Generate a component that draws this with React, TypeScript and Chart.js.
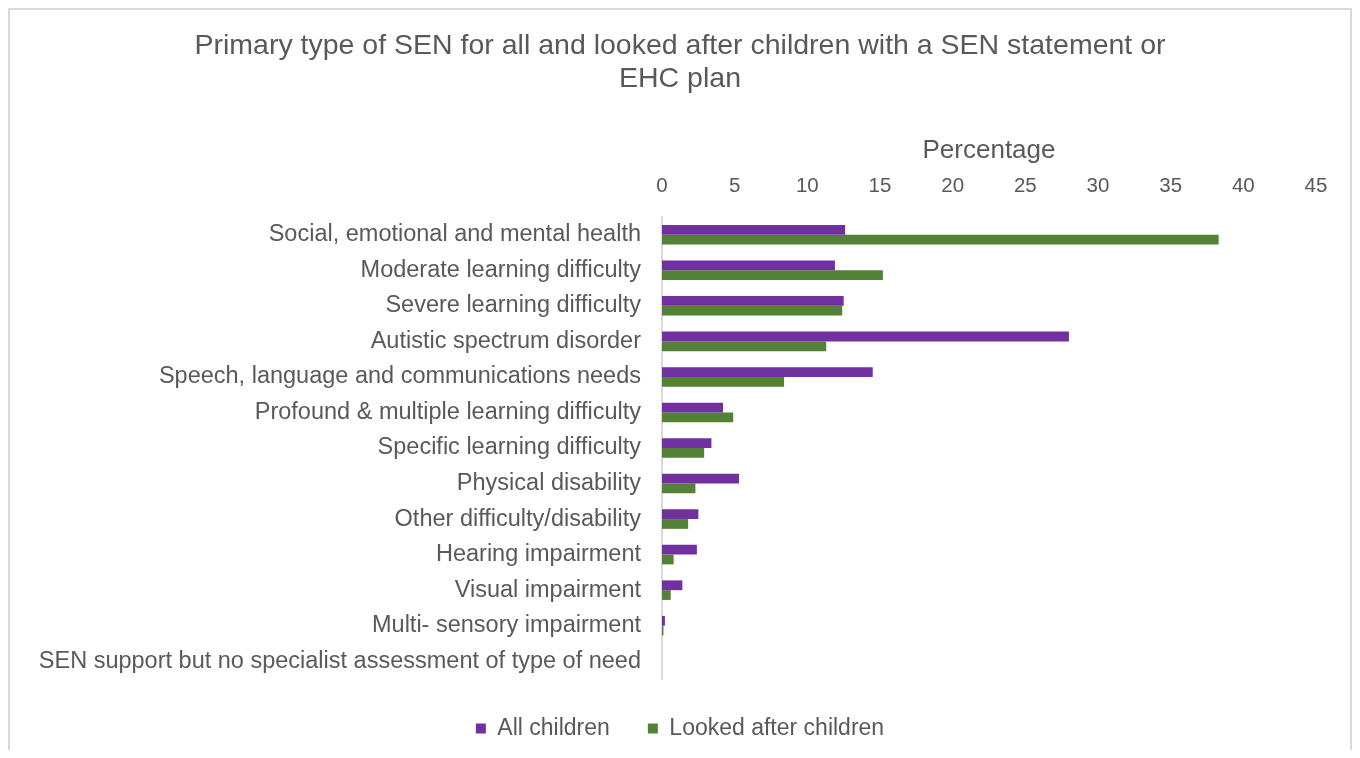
import React, { useEffect, useRef } from "react";
import { Chart, registerables } from "chart.js";

Chart.register(...registerables);

const titleLines = [
  "Primary type of SEN for all and looked after children with a SEN statement or",
  "EHC plan",
];

const categories = [
  "Social, emotional and mental health",
  "Moderate learning difficulty",
  "Severe learning difficulty",
  "Autistic spectrum disorder",
  "Speech, language and communications needs",
  "Profound & multiple learning difficulty",
  "Specific learning difficulty",
  "Physical disability",
  "Other difficulty/disability",
  "Hearing impairment",
  "Visual impairment",
  "Multi- sensory impairment",
  "SEN support but no specialist assessment of type of need",
];

const allChildren = [12.6, 11.9, 12.5, 28.0, 14.5, 4.2, 3.4, 5.3, 2.5, 2.4, 1.4, 0.2, 0];
const lookedAfterChildren = [38.3, 15.2, 12.4, 11.3, 8.4, 4.9, 2.9, 2.3, 1.8, 0.8, 0.6, 0.1, 0];

const seriesNames = ["All children", "Looked after children"];

const axisTitle = "Percentage";
const axisMin = 0;
const axisMax = 45;
const axisStep = 5;

const FONT = "'Liberation Sans', Arial, Helvetica, sans-serif";
const TEXT = "#595959";

export default function App() {
  const canvasRef = useRef<HTMLCanvasElement | null>(null);

  useEffect(() => {
    document.documentElement.style.overflow = "hidden";
    if (!canvasRef.current) return;
    const chart = new Chart(canvasRef.current, {
      type: "bar",
      data: {
        labels: categories,
        datasets: [
          {
            label: seriesNames[0],
            data: allChildren,
            backgroundColor: "#7030A0",
            borderWidth: 0,
            xAxisID: "x",
            yAxisID: "y",
          },
          {
            label: seriesNames[1],
            data: lookedAfterChildren,
            backgroundColor: "#538135",
            borderWidth: 0,
            xAxisID: "x",
            yAxisID: "y",
          },
        ],
      },
      options: {
        indexAxis: "y",
        animation: false,
        responsive: false,
        maintainAspectRatio: false,
        devicePixelRatio: 1,
        layout: { padding: 0 },
        datasets: {
          bar: { categoryPercentage: 0.55, barPercentage: 1.0 },
        },
        plugins: {
          tooltip: { enabled: false },
          title: {
            display: true,
            text: titleLines,
            color: TEXT,
            font: { family: FONT, size: 28.5, weight: "normal", lineHeight: 33 / 28.5 },
            padding: { top: 20, bottom: 0 },
          },
          legend: {
            display: true,
            position: "bottom",
            maxHeight: 74,
            labels: {
              color: TEXT,
              font: { family: FONT, size: 23 },
              boxWidth: 10,
              boxHeight: 10,
              padding: 38,
            },
          },
        },
        scales: {
          x: {
            type: "linear",
            position: "top",
            min: axisMin,
            max: axisMax,
            ticks: {
              stepSize: axisStep,
              color: TEXT,
              font: { family: FONT, size: 20.5 },
              padding: 18,
            },
            grid: { display: false, drawTicks: false },
            border: { display: false },
            title: {
              display: true,
              text: axisTitle,
              color: TEXT,
              font: { family: FONT, size: 26 },
              padding: { top: 39, bottom: 0 },
            },
            afterFit: (scale: any) => {
              scale.height = 121;
            },
          },
          y: {
            type: "category",
            position: "left",
            ticks: {
              color: TEXT,
              font: { family: FONT, size: 23.5 },
              padding: 21,
              autoSkip: false,
            },
            grid: { display: false, drawTicks: false },
            border: { display: true, color: "#d9d9d9", width: 2 },
            afterFit: (scale: any) => {
              scale.width = 652;
            },
          },
          rightSpace: {
            type: "linear",
            axis: "y",
            position: "right",
            display: true,
            ticks: { display: false },
            grid: { display: false, drawTicks: false },
            border: { display: false },
            afterFit: (scale: any) => {
              scale.width = 34;
            },
          },
        },
      },
    });
    return () => chart.destroy();
  }, []);

  return (
    <div
      style={{
        boxSizing: "border-box",
        width: 1344,
        height: 742,
        borderTop: "2px solid #d9d9d9",
        borderLeft: "2px solid #d9d9d9",
        borderRight: "2px solid #d9d9d9",
        background: "#ffffff",
      }}
    >
      <canvas ref={canvasRef} width={1340} height={740} style={{ display: "block" }} />
    </div>
  );
}
